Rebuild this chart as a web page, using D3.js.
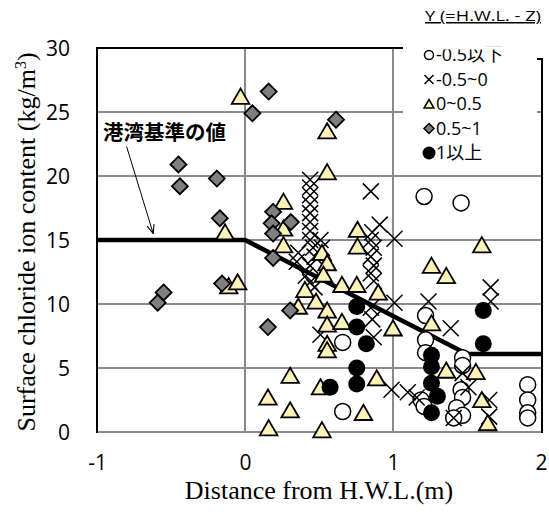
<!DOCTYPE html>
<html>
<head>
<meta charset="utf-8">
<title>Surface chloride vs distance from H.W.L.</title>
<script src="https://cdn.jsdelivr.net/npm/d3@7"></script>
<style>
	body{ margin:0; background:#fff; }
	#chart{ width:549px; height:512px; }
</style>
</head>
<body>
<div id="chart"></div>
<script>
// series, [distance (m), chloride (kg/m3)]
var below05 = [[0.66,7.0],[0.66,1.6],[1.21,18.4],[1.46,17.9],[1.22,9.1],[1.22,7.2],[1.22,6.2],
	[1.19,2.5],[1.21,2.0],[1.47,5.8],[1.47,5.2],[1.46,3.3],[1.47,2.7],[1.43,1.9],[1.47,1.3],[1.41,1.1],
	[1.91,3.7],[1.91,2.5],[1.91,1.5],[1.91,1.1]];
var m05to0 = [[0.44,19.7],[0.44,19.1],[0.44,18.5],[0.44,17.8],[0.44,17.1],[0.44,16.4],
	[0.44,15.7],[0.44,15.0],[0.46,14.4],[0.47,13.7],[0.44,13.0],[0.41,12.2],[0.44,11.7],[0.47,11.3],
	[0.51,15.0],[0.52,14.4],[0.36,14.0],[0.35,13.3],
	[0.86,15.6],[0.85,15.0],[0.87,14.4],[0.85,13.7],[0.87,13.0],[0.85,12.4],[0.87,11.8],
	[0.85,9.7],[0.86,8.8],[0.87,7.4],
	[0.85,18.8],[0.91,16.2],[1.01,15.1],[1.01,10.1],[1.24,10.2],[1.66,11.3],[1.39,8.1],[1.66,10.2],
	[0.51,7.6],[0.99,3.3],[1.1,3.1],[1.16,2.7],[1.47,4.6],[1.51,3.5],[1.65,2.5],[1.41,1.1],[1.65,1.2]];
var z0to05 = [[-0.03,26.2],[-0.135,15.6],[-0.11,11.4],[-0.05,11.7],[0.555,23.5],[0.555,20.3],
	[0.26,18.0],[0.26,15.9],[0.26,14.6],[0.76,15.8],[0.76,14.5],[0.52,14.0],[0.555,13.2],[0.53,12.3],
	[0.405,11.1],[0.48,10.2],[0.555,9.5],[0.655,11.5],[0.755,11.5],[0.9,10.9],[0.36,9.8],[0.555,8.4],
	[0.655,8.6],[0.555,6.9],[0.555,6.4],[1.0,8.1],[1.26,13.0],[1.36,12.2],[1.26,8.5],[1.6,14.6],
	[1.36,4.8],[1.56,4.7],[1.6,2.5],[1.64,0.7],[0.305,4.4],[0.155,2.7],[0.305,1.7],[0.16,0.3],
	[0.52,0.15],[0.51,3.5],[0.89,4.2],[0.8,1.5]];
var z05to1 = [[-0.59,10.1],[-0.55,10.9],[-0.155,11.6],[-0.45,20.9],[-0.44,19.2],[-0.19,19.8],
	[-0.17,16.7],[0.05,24.9],[0.16,26.6],[0.615,24.4],[0.19,17.2],[0.31,16.4],[0.18,16.3],[0.19,15.5],
	[0.19,13.6],[0.305,9.5],[0.155,8.2]];
var above1 = [[0.755,9.8],[0.755,8.2],[0.82,6.9],[0.755,5.0],[0.755,3.75],[0.575,3.5],[1.26,6.0],
	[1.26,5.1],[1.26,3.8],[1.3,2.8],[1.26,1.5],[1.61,9.5],[1.61,6.9]];

// harbour standard line
var stdX = [-1, 0, 1.5, 2];
var stdY = [15, 15, 6.1, 6.1];

var xTicks = [-1, 0, 1, 2];
var yTicks = [0, 5, 10, 15, 20, 25, 30];
var legendLabels = ['-0.5以下', '-0.5~0', '0~0.5', '0.5~1', '1以上'];

var W = 549, H = 512;
var x = d3.scaleLinear().domain([-1, 2]).range([97, 541]);
var y = d3.scaleLinear().domain([0, 30]).range([432, 48]);

var svg = d3.select('#chart').append('svg').attr('width', W).attr('height', H);

// grid
svg.append('g').selectAll('line').data(yTicks.filter(function(d){ return d > 0 && d < 30; }))
	.enter().append('line')
	.attr('x1', x(-1)).attr('x2', x(2))
	.attr('y1', function(d){ return y(d); }).attr('y2', function(d){ return y(d); })
	.style('stroke', '#8a8a8a').style('stroke-width', 2);
svg.append('g').selectAll('line').data([0, 1])
	.enter().append('line')
	.attr('x1', function(d){ return x(d); }).attr('x2', function(d){ return x(d); })
	.attr('y1', y(30)).attr('y2', y(0))
	.style('stroke', '#8a8a8a').style('stroke-width', 2);

// frame
svg.append('line').attr('x1', x(-1)).attr('x2', x(2)).attr('y1', y(0)).attr('y2', y(0))
	.style('stroke', '#8a8a8a').style('stroke-width', 2);
svg.append('line').attr('x1', x(-1)).attr('x2', x(-1)).attr('y1', y(30) - 1).attr('y2', y(0) + 1)
	.style('stroke', '#000').style('stroke-width', 2);
svg.append('line').attr('x1', x(-1)).attr('x2', x(2) + 1).attr('y1', y(30)).attr('y2', y(30))
	.style('stroke', '#000').style('stroke-width', 2);
svg.append('line').attr('x1', x(2) + 1).attr('x2', x(2) + 1).attr('y1', y(30)).attr('y2', y(0) + 1)
	.style('stroke', '#000').style('stroke-width', 2);

// axes (labels only)
var ax = svg.append('g').attr('transform', 'translate(0,' + (y(0) + 20) + ')')
	.call(d3.axisBottom(x).tickValues(xTicks).tickSize(0).tickFormat(function(d){ return String(d); }));
var ay = svg.append('g').attr('transform', 'translate(' + (x(-1) - 24) + ',0)')
	.call(d3.axisLeft(y).tickValues(yTicks).tickSize(0));
[ax, ay].forEach(function(a){
	a.select('.domain').remove();
	a.selectAll('text').style('font-family', '"Open Sans", sans-serif').style('font-size', '21px').attr('fill', '#000');
});
ax.selectAll('text').attr('dy', '0.71em');
ay.selectAll('text').attr('dy', '0.36em');

svg.append('text').attr('x', (x(-1) + x(2)) / 2).attr('y', 499)
	.attr('text-anchor', 'middle')
	.style('font-family', '"Liberation Serif", serif').style('font-size', '26px')
	.text('Distance from H.W.L.(m)');
var yl = svg.append('text').attr('transform', 'translate(35,' + ((y(0) + y(30)) / 2 + 2) + ') rotate(-90)')
	.attr('text-anchor', 'middle')
	.style('font-family', '"Liberation Serif", serif').style('font-size', '26px');
yl.append('tspan').text('Surface chloride ion content (kg/m');
yl.append('tspan').attr('dy', -9).style('font-size', '16px').text('3');
yl.append('tspan').attr('dy', 9).text(')');

// standard line
var stdLine = d3.line().x(function(d){ return x(d[0]); }).y(function(d){ return y(d[1]); });
svg.append('path').datum(stdX.map(function(v, i){ return [v, stdY[i]]; }))
	.attr('d', stdLine).style('fill', 'none').style('stroke', '#000').style('stroke-width', 4.5);

// markers
function tri(s){ return 'M0,' + (-s) + 'L' + (s * 1.1) + ',' + (s * 0.9) + 'L' + (-s * 1.1) + ',' + (s * 0.9) + 'Z'; }
function dia(s){ return 'M0,' + (-s) + 'L' + s + ',0L0,' + s + 'L' + (-s) + ',0Z'; }
function crs(s){ return 'M' + (-s) + ',' + (-s) + 'L' + s + ',' + s + 'M' + (-s) + ',' + s + 'L' + s + ',' + (-s); }
function tr(d){ return 'translate(' + x(d[0]) + ',' + y(d[1]) + ')'; }

svg.append('g').selectAll('circle').data(below05).enter().append('circle')
	.attr('cx', function(d){ return x(d[0]); }).attr('cy', function(d){ return y(d[1]); })
	.attr('r', 8).style('fill', '#fff').style('stroke', '#000').style('stroke-width', 1.5);
svg.append('g').selectAll('path').data(m05to0).enter().append('path')
	.attr('transform', tr).attr('d', crs(8))
	.style('fill', 'none').style('stroke', '#000').style('stroke-width', 1.5);
svg.append('g').selectAll('path').data(z0to05).enter().append('path')
	.attr('transform', tr).attr('d', tri(8))
	.style('fill', '#fdf3b8').style('stroke', '#000').style('stroke-width', 1.8).style('stroke-linejoin', 'miter');
svg.append('g').selectAll('path').data(z05to1).enter().append('path')
	.attr('transform', tr).attr('d', dia(8))
	.style('fill', '#7f7f7f').style('stroke', '#000').style('stroke-width', 1.8);
svg.append('g').selectAll('circle').data(above1).enter().append('circle')
	.attr('cx', function(d){ return x(d[0]); }).attr('cy', function(d){ return y(d[1]); })
	.attr('r', 8.5).style('fill', '#000');

// annotation
var noteAt = [-0.96, 23.4], arrowFrom = [-0.8, 22.3], arrowTo = [-0.62, 15.5];
svg.append('defs').append('marker').attr('id', 'ah').attr('viewBox', '0 0 10 10')
	.attr('refX', 10).attr('refY', 5).attr('markerWidth', 9).attr('markerHeight', 9)
	.attr('markerUnits', 'userSpaceOnUse').attr('orient', 'auto')
	.append('path').attr('d', 'M0,1L10,5L0,9').style('fill', 'none').style('stroke', '#000').style('stroke-width', 1.2);
svg.append('line').attr('x1', x(arrowFrom[0])).attr('y1', y(arrowFrom[1]))
	.attr('x2', x(arrowTo[0])).attr('y2', y(arrowTo[1]))
	.style('stroke', '#000').style('stroke-width', 1).attr('marker-end', 'url(#ah)');
svg.append('text').attr('x', x(noteAt[0])).attr('y', y(noteAt[1])).attr('dy', '0.35em')
	.style('font-family', '"Noto Sans CJK JP", sans-serif').style('font-size', '20.5px').style('font-weight', 'bold')
	.text('港湾基準の値');

// legend
var lg = svg.append('g');
lg.append('rect').attr('x', 403).attr('y', 42).attr('width', 134).attr('height', 122).style('fill', '#fff');
svg.append('line').attr('x1', 403).attr('x2', 537).attr('y1', y(30)).attr('y2', y(30)).style('stroke', '#fff').style('stroke-width', 3);
svg.append('line').attr('x1', 537).attr('x2', x(2) + 2).attr('y1', 59).attr('y2', 59).style('stroke', '#000').style('stroke-width', 2);
svg.append('rect').attr('x', 536).attr('y', 42).attr('width', 10).attr('height', 16).style('fill', '#fff');

var rows = lg.selectAll('g').data(legendLabels).enter().append('g')
	.attr('transform', function(d, i){ return 'translate(429,' + (55 + i * 24.5) + ')'; });
rows.each(function(d, i){
	var r = d3.select(this);
	if (i === 0) r.append('circle').attr('r', 4.5).style('fill', '#fff').style('stroke', '#000').style('stroke-width', 1.5);
	if (i === 1) r.append('path').attr('d', crs(4.5)).style('stroke', '#000').style('stroke-width', 1.5);
	if (i === 2) r.append('path').attr('d', tri(4.5)).style('fill', '#fdf3b8').style('stroke', '#000').style('stroke-width', 1.5);
	if (i === 3) r.append('path').attr('d', dia(5)).style('fill', '#7f7f7f').style('stroke', '#000').style('stroke-width', 1.5);
	if (i === 4) r.append('circle').attr('r', 6.5).style('fill', '#000');
});
rows.append('text').attr('x', 7).attr('dy', '0.36em')
	.style('font-family', '"Open Sans", "Noto Sans CJK JP", sans-serif').style('font-size', '18px')
	.text(function(d){ return d; });

svg.append('text').attr('x', 541).attr('y', 21).attr('text-anchor', 'end')
	.style('font-family', '"Open Sans", sans-serif').style('font-size', '15px')
	.style('text-decoration', 'underline')
	.attr('textLength', 116).attr('lengthAdjust', 'spacingAndGlyphs')
	.text('Y (=H.W.L. - Z)');
</script>
</body>
</html>
